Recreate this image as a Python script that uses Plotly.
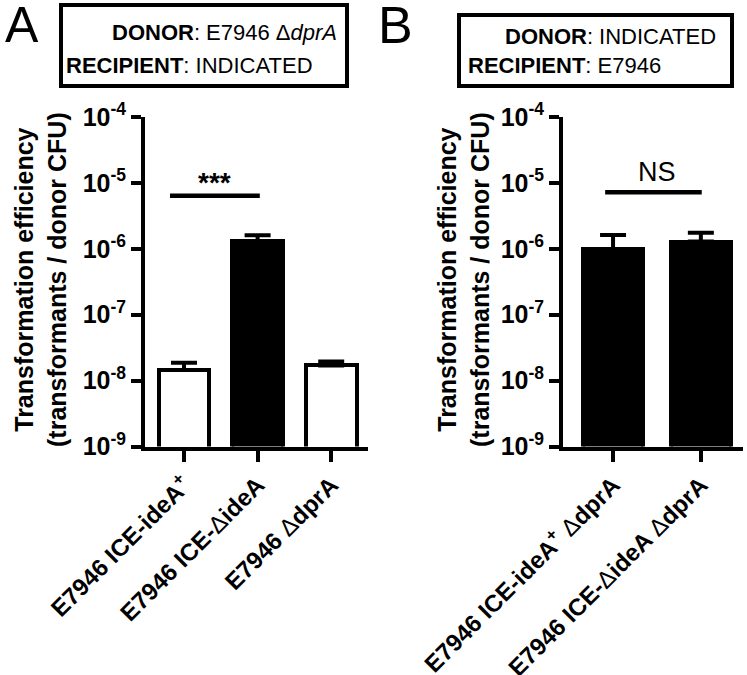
import plotly.graph_objects as go

# ---------------- data ----------------
cats_a = ["E7946 ICE-ideA<sup>+</sup>", "E7946 ICE-ΔideA", "E7946 ΔdprA"]
vals_a = [1.45e-8, 1.3e-6, 1.7e-8]
err_a = [0.42e-8, 0.3e-6, 0.25e-8]
fill_a = ["white", "black", "white"]

cats_b = ["E7946 ICE-ideA<sup>+</sup> ΔdprA", "E7946 ICE-ΔideA ΔdprA"]
vals_b = [0.98e-6, 1.29e-6]
err_b = [0.64e-6, 0.46e-6]
fill_b = ["black", "black"]

ytick_vals = [1e-9, 1e-8, 1e-7, 1e-6, 1e-5, 1e-4]
ytick_text = ["10<sup>-9</sup>", "10<sup>-8</sup>", "10<sup>-7</sup>",
              "10<sup>-6</sup>", "10<sup>-5</sup>", "10<sup>-4</sup>"]

sig_a_level = 6.4e-6
sig_a_label = "***"
sig_b_level = 7.2e-6
sig_b_label = "NS"

ytitle = "Transformation efficiency<br>(transformants / donor CFU)"
box_a = ["<b>DONOR</b>: E7946 Δ<i>dprA</i>", "<b>RECIPIENT</b>: INDICATED"]
box_b = ["<b>DONOR</b>: INDICATED", "<b>RECIPIENT</b>: E7946"]

# ---------------- layout helpers ----------------
W, H = 747, 675
FONT = "Liberation Sans, Arial, sans-serif"


def px(x):
    return x / W


def py(y):
    return (H - y) / H


def fmt_label(s):
    return "<b>" + s.replace("Δ", "</b>Δ<b>") + "</b>"


fig = go.Figure()

for cats, vals, errs, fills, xa, ya in [
    (cats_a, vals_a, err_a, fill_a, "x", "y"),
    (cats_b, vals_b, err_b, fill_b, "x2", "y2"),
]:
    fig.add_trace(go.Bar(
        x=list(range(len(cats))), y=vals,
        width=0.69,
        marker=dict(color=fills, line=dict(color="black", width=4)),
        error_y=dict(type="data", symmetric=False, array=errs,
                     arrayminus=[0] * len(errs), color="black",
                     thickness=4, width=13),
        xaxis=xa, yaxis=ya, showlegend=False, hoverinfo="skip",
    ))

# significance lines
fig.add_trace(go.Scatter(x=[-0.19, 1.03], y=[sig_a_level, sig_a_level],
                         mode="lines", line=dict(color="black", width=4.5),
                         xaxis="x", yaxis="y", showlegend=False, hoverinfo="skip"))
fig.add_trace(go.Scatter(x=[-0.09, 1.01], y=[sig_b_level, sig_b_level],
                         mode="lines", line=dict(color="black", width=4.5),
                         xaxis="x2", yaxis="y2", showlegend=False, hoverinfo="skip"))

ydom = [py(446.5), py(117)]
yaxis_common = dict(
    type="log", range=[-9, -4], tickvals=ytick_vals,
    ticktext=["<b>" + t + "</b>" for t in ytick_text],
    ticks="outside", ticklen=10, tickwidth=3.5, tickcolor="black",
    showline=True, linewidth=4, linecolor="black",
    showgrid=False, zeroline=False, automargin=False,
    tickfont=dict(family=FONT, size=25, color="black"),
    domain=ydom,
)
xaxis_common = dict(
    ticks="outside", ticklen=11, tickwidth=3.5, tickcolor="black",
    showline=True, linewidth=4, linecolor="black",
    showgrid=False, zeroline=False, tickangle=-45, automargin=False,
    tickfont=dict(family=FONT, size=24, color="black"),
)

fig.update_layout(
    width=W, height=H, autosize=False,
    margin=dict(l=0, r=0, t=0, b=0, autoexpand=False),
    paper_bgcolor="white", plot_bgcolor="white",
    font=dict(family=FONT, color="black"),
    bargap=0,
    xaxis=dict(xaxis_common, domain=[px(145), px(368)], range=[-0.53, 2.5],
               tickvals=list(range(len(cats_a))),
               ticktext=[fmt_label(c) for c in cats_a], anchor="y"),
    yaxis=dict(yaxis_common, anchor="x"),
    xaxis2=dict(xaxis_common, domain=[px(563), px(743)], range=[-0.57, 1.48],
                tickvals=list(range(len(cats_b))),
                ticktext=[fmt_label(c) for c in cats_b], anchor="y2"),
    yaxis2=dict(yaxis_common, anchor="x2"),
)

ann = []
# y axis titles
for xc in [40, 463]:
    ann.append(dict(text="<b>" + ytitle + "</b>", x=px(xc), y=py(280),
                    xref="paper", yref="paper", textangle=-90,
                    showarrow=False, font=dict(family=FONT, size=25, color="black"),
                    xanchor="center", yanchor="middle"))
# significance labels (log coords for annotations)
ann.append(dict(text="<b>" + sig_a_label + "</b>", x=0.41, y=-5.0, xref="x", yref="y",
                showarrow=False, font=dict(family=FONT, size=28, color="black"),
                yanchor="middle"))
ann.append(dict(text=sig_b_label, x=0.5, y=-4.83, xref="x2", yref="y2",
                showarrow=False, font=dict(family=FONT, size=27, color="black"),
                yanchor="middle"))
# panel letters
ann.append(dict(text="A", x=px(3), y=py(25), xref="paper", yref="paper",
                showarrow=False, xanchor="left", yanchor="middle",
                font=dict(family=FONT, size=50, color="black")))
ann.append(dict(text="B", x=px(376), y=py(25), xref="paper", yref="paper",
                showarrow=False, xanchor="left", yanchor="middle",
                font=dict(family=FONT, size=52, color="black")))
# box texts
ann.append(dict(text=box_a[0], x=px(339), y=py(33), xref="paper", yref="paper",
                showarrow=False, xanchor="right", yanchor="middle",
                font=dict(family=FONT, size=22, color="black")))
ann.append(dict(text=box_a[1], x=px(64), y=py(65), xref="paper", yref="paper",
                showarrow=False, xanchor="left", yanchor="middle",
                font=dict(family=FONT, size=22, color="black")))
ann.append(dict(text=box_b[0], x=px(718), y=py(37), xref="paper", yref="paper",
                showarrow=False, xanchor="right", yanchor="middle",
                font=dict(family=FONT, size=22, color="black")))
ann.append(dict(text=box_b[1], x=px(466), y=py(65), xref="paper", yref="paper",
                showarrow=False, xanchor="left", yanchor="middle",
                font=dict(family=FONT, size=22, color="black")))
fig.update_layout(annotations=ann)

fig.update_layout(shapes=[
    dict(type="rect", xref="paper", yref="paper",
         x0=px(61), x1=px(347), y0=py(86), y1=py(5),
         line=dict(color="black", width=4)),
    dict(type="rect", xref="paper", yref="paper",
         x0=px(459), x1=px(732), y0=py(86), y1=py(15),
         line=dict(color="black", width=4)),
])

fig.write_html("out.html",
               config={"displayModeBar": False},
               post_script="document.body.style.margin='0';"
                           "document.body.style.overflow='hidden';")
